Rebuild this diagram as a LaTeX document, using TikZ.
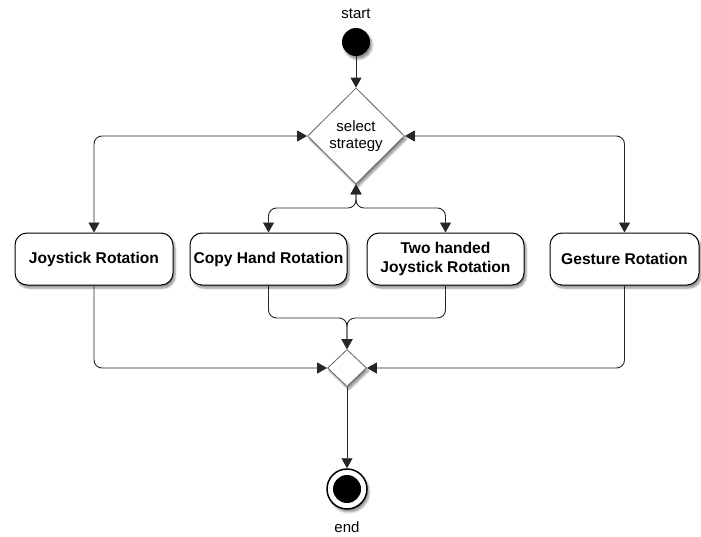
\documentclass[tikz,border=0pt]{standalone}
\usepackage{fontspec}
\setmainfont{Liberation Sans}
\usetikzlibrary{shapes.geometric, arrows.meta, shadows.blur}

\begin{document}
\begin{tikzpicture}[x=1pt, y=-1pt,
  font=\fontsize{15}{18}\selectfont,
  softshadow/.style={blur shadow={shadow xshift=2pt, shadow yshift=-3pt, shadow opacity=45, shadow blur steps=6}},
  activity/.style={draw=black, line width=1pt, fill=white, rounded corners=12pt,
    minimum height=52pt, inner sep=0pt, align=center,
    font=\fontsize{15.6}{19}\selectfont\bfseries, softshadow},
  decision/.style={diamond, aspect=1, draw=black!60, fill=white, line width=0.8pt,
    inner sep=0pt, align=center, softshadow},
  tip/.tip={Triangle[length=10pt, width=11pt]},
  flow/.style={draw=black!85, line width=0.9pt, -tip, rounded corners=8pt},
  biflow/.style={flow, tip-tip},
]
\useasboundingbox (0,0) rectangle (701,536);

% start / end markers
\node (startlbl) at (356,14) {start};
\node[circle, fill=black, minimum size=28pt, inner sep=0pt, softshadow] (start) at (356,42) {};

\node[circle, draw=black, line width=1.5pt, fill=white, minimum size=40pt, inner sep=0pt, softshadow] (endo) at (347,489) {};
\node[circle, fill=black, minimum size=28pt, inner sep=0pt] (endi) at (347,489) {};
\node (endlbl) at (347,527) {end};

% decisions
\node[decision, minimum width=97pt, minimum height=96pt] (sel) at (356,136) {select\\[-1pt]strategy};
\node[decision, minimum width=39pt, minimum height=37pt] (merge) at (347,368) {};

% activities
\node[activity, minimum width=158pt] (joy)  at (94,259)    {Joystick Rotation};
\node[activity, minimum width=157pt] (copy) at (268.5,259) {Copy Hand Rotation};
\node[activity, minimum width=157pt] (two)  at (445.5,259) {Two handed\\Joystick Rotation};
\node[activity, minimum width=149pt] (ges)  at (624.5,259) {Gesture Rotation};

% junction points
\coordinate (j1) at (356,208);
\coordinate (j2) at (347,318);

% connectors
\draw[flow] (start) -- (sel);
\draw[biflow] (joy.north) |- (sel.west);
\draw[biflow] (ges.north) |- (sel.east);
\draw[biflow] (copy.north) |- (j1) -- (sel.south);
\draw[biflow] (two.north) |- (j1) -- (sel.south);

\draw[flow] (copy.south) |- (j2) -- (merge.north);
\draw[flow] (two.south) |- (j2) -- (merge.north);
\draw[flow] (joy.south) |- (merge.west);
\draw[flow] (ges.south) |- (merge.east);
\draw[flow] (merge) -- (endo);
\end{tikzpicture}
\end{document}
